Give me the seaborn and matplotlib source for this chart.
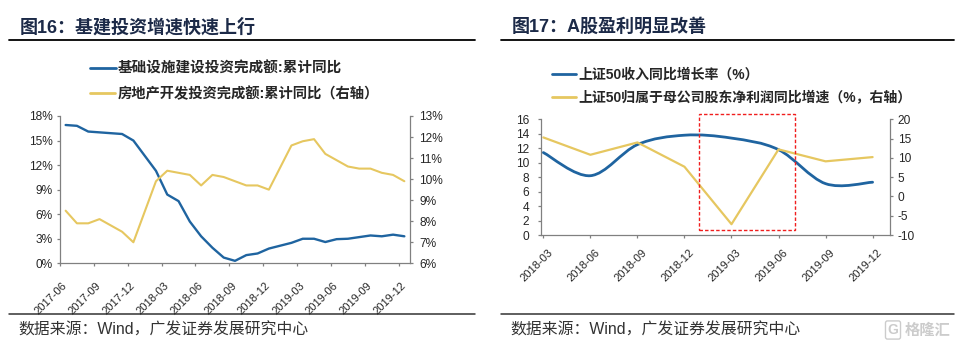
import numpy as np
import pandas as pd
import matplotlib
matplotlib.use("Agg")
import matplotlib.pyplot as plt
import seaborn as sns
from matplotlib.path import Path
from matplotlib.patches import PathPatch, Rectangle
from matplotlib.lines import Line2D
from matplotlib.ticker import FixedLocator, FuncFormatter
from matplotlib.transforms import ScaledTranslation

# ---------------- data ----------------
months = ["2017-06", "2017-07", "2017-08", "2017-09", "2017-10", "2017-11", "2017-12",
          "2018-01", "2018-02", "2018-03", "2018-04", "2018-05", "2018-06", "2018-07",
          "2018-08", "2018-09", "2018-10", "2018-11", "2018-12", "2019-01", "2019-02",
          "2019-03", "2019-04", "2019-05", "2019-06", "2019-07", "2019-08", "2019-09",
          "2019-10", "2019-11", "2019-12"]
# cumulative YoY, %, January figures are not published
infra_yoy = [16.9, 16.8, 16.1, 16.0, 15.9, 15.8, 15.0,
             np.nan, 11.3, 8.4, 7.6, 5.1, 3.3, 1.9,
             0.7, 0.3, 1.0, 1.2, 1.8, np.nan, 2.5,
             3.0, 3.0, 2.6, 2.95, 3.0, 3.2, 3.4,
             3.3, 3.5, 3.3]
estate_yoy = [8.5, 7.9, 7.9, 8.1, 7.8, 7.5, 7.0,
              np.nan, 9.9, 10.4, 10.3, 10.2, 9.7, 10.2,
              10.1, 9.9, 9.7, 9.7, 9.5, np.nan, 11.6,
              11.8, 11.9, 11.2, 10.9, 10.6, 10.5, 10.5,
              10.3, 10.2, 9.9]

quarters = ["2018-03", "2018-06", "2018-09", "2018-12",
            "2019-03", "2019-06", "2019-09", "2019-12"]
sz50_revenue = [11.4, 8.2, 12.5, 13.8, 13.4, 11.8, 7.1, 7.3]
sz50_profit = [15.3, 10.8, 14.0, 7.7, -7.2, 12.2, 9.1, 10.2]

left_label_months = months[::3]

# ---------------- style ----------------
BLUE = "#1F64A0"
GOLD = "#E6C760"
SPINE = "#808080"
TXT = "#262626"
NAVY = "#1C2A48"
YSIZE = 8.6
XSIZE = 8.0

sns.set_theme(style="white")
plt.rcParams["font.family"] = ["Liberation Sans", "Noto Sans CJK SC", "DejaVu Sans"]

W, H = 961, 346
fig = plt.figure(figsize=(W / 100, H / 100), dpi=100)


def fx(px):
    return px / W


def fy(py):
    return 1 - py / H


def style_axes(ax, axr):
    for s in ("top", "right"):
        ax.spines[s].set_visible(False)
    for s in ("top", "left", "bottom"):
        axr.spines[s].set_visible(False)
    for sp in (ax.spines["left"], ax.spines["bottom"], axr.spines["right"]):
        sp.set_color(SPINE)
        sp.set_linewidth(0.9)
    ax.grid(False)
    axr.grid(False)
    ax.set_xlabel("")
    ax.set_ylabel("")
    axr.set_ylabel("")


# ---------------- left panel ----------------
ax1 = fig.add_axes([fx(60), fy(263.3), fx(350), 147.3 / H])
ax1r = ax1.twinx()

df1 = pd.DataFrame({"t": np.arange(len(months)), "month": months,
                    "infra": infra_yoy, "estate": estate_yoy})
sns.lineplot(data=df1.dropna(subset=["infra"]), x="t", y="infra", ax=ax1,
             color=BLUE, lw=1.7, legend=False)
sns.lineplot(data=df1.dropna(subset=["estate"]), x="t", y="estate", ax=ax1r,
             color=GOLD, lw=1.5, legend=False)

ax1.set_xlim(-0.5, len(months) - 0.5)
ax1.set_ylim(0, 18)
ax1r.set_ylim(6, 13)
ax1.yaxis.set_major_locator(FixedLocator(np.arange(0, 19, 3)))
ax1r.yaxis.set_major_locator(FixedLocator(np.arange(6, 14, 1)))
pct = FuncFormatter(lambda v, p: f"{v:.0f}%")
ax1.yaxis.set_major_formatter(pct)
ax1r.yaxis.set_major_formatter(pct)

label_pos = [months.index(m) for m in left_label_months]
ax1.xaxis.set_major_locator(FixedLocator(label_pos))
ax1.xaxis.set_minor_locator(FixedLocator(np.array(label_pos) - 0.5))
ax1.tick_params(axis="x", which="major", length=0, pad=15, labelsize=XSIZE, colors=TXT)
ax1.tick_params(axis="x", which="minor", length=2.5, width=0.9, color=SPINE,
                direction="out", bottom=True)
ax1.tick_params(axis="y", length=2.5, width=0.9, color=SPINE, pad=3,
                labelsize=YSIZE, labelcolor=TXT, left=True)
ax1r.tick_params(axis="y", length=2.5, width=0.9, color=SPINE, pad=4,
                 labelsize=YSIZE, labelcolor=TXT, right=True)
ax1.set_xticklabels(left_label_months, rotation=45, ha="right", va="center",
                    rotation_mode="anchor")
style_axes(ax1, ax1r)

# ---------------- right panel ----------------
ax2 = fig.add_axes([fx(541), fy(235), fx(349), 115.7 / H])
ax2r = ax2.twinx()

df2 = pd.DataFrame({"q": np.arange(len(quarters)), "quarter": quarters,
                    "revenue": sz50_revenue, "profit": sz50_profit})

# revenue growth drawn as a smoothed curve through every quarterly value
xq = df2["q"].to_numpy(float)
yq = df2["revenue"].to_numpy(float)
pts = np.column_stack([xq, yq])
ext = np.vstack([pts[0], pts, pts[-1]])
verts = [tuple(pts[0])]
codes = [Path.MOVETO]
for i in range(len(pts) - 1):
    p0, p1, p2, p3 = ext[i], ext[i + 1], ext[i + 2], ext[i + 3]
    c1 = p1 + (p2 - p0) / 6.0
    c2 = p2 - (p3 - p1) / 6.0
    verts += [tuple(c1), tuple(c2), tuple(p2)]
    codes += [Path.CURVE4] * 3
ax2.add_patch(PathPatch(Path(verts, codes), fill=False, ec=BLUE, lw=2.0,
                        capstyle="round", joinstyle="round"))

sns.lineplot(data=df2, x="q", y="profit", ax=ax2r, color=GOLD, lw=1.6, legend=False)

ax2.set_xlim(-0.05, 7.37)
ax2.set_ylim(0, 16)
ax2r.set_ylim(-10, 20)
ax2.yaxis.set_major_locator(FixedLocator(np.arange(0, 17, 2)))
ax2r.yaxis.set_major_locator(FixedLocator(np.arange(-10, 21, 5)))
ax2.yaxis.set_major_formatter(FuncFormatter(lambda v, p: f"{v:.0f}"))
ax2r.yaxis.set_major_formatter(FuncFormatter(lambda v, p: f"{v:.0f}"))
ax2.xaxis.set_major_locator(FixedLocator(df2["q"]))
ax2.tick_params(axis="x", length=2.5, width=0.9, color=SPINE, pad=9,
                labelsize=XSIZE, labelcolor=TXT, bottom=True)
ax2.tick_params(axis="y", length=2.5, width=0.9, color=SPINE, pad=6,
                labelsize=YSIZE, labelcolor=TXT, left=True)
ax2r.tick_params(axis="y", length=2.5, width=0.9, color=SPINE, pad=3,
                 labelsize=YSIZE, labelcolor=TXT, right=True)
ax2.set_xticklabels(quarters, rotation=45, ha="right", va="center",
                    rotation_mode="anchor")
style_axes(ax2, ax2r)
fig.canvas.draw()
shift = ScaledTranslation(8 / 100, 0, fig.dpi_scale_trans)
for lab in ax2.get_xticklabels():
    lab.set_transform(lab.get_transform() + shift)

# highlighted window around the 2019-Q1 profit dip
ax2r.add_patch(Rectangle((3.31, 0.65), 5.36 - 3.31, 16.73 - 0.65,
                         transform=ax2.transData, fill=False, ec="#F01E1E",
                         lw=1.0, ls=(0, (2.5, 1.5)), clip_on=False, zorder=5))

# ---------------- legends ----------------
def legend_row(x0, yc, color, label, size):
    fig.legend(handles=[Line2D([], [], color=color, lw=2.0)], labels=[label],
               loc="center left", bbox_to_anchor=(fx(x0), fy(yc)),
               frameon=False, handlelength=1.75,
               handletextpad=0.15, borderpad=0, borderaxespad=0,
               prop={"family": ["Liberation Sans", "Noto Sans CJK SC"],
                     "size": size, "weight": "bold"})


legend_row(90, 69, BLUE, "基础设施建设投资完成额:累计同比", 10.5)
legend_row(90, 94, GOLD, "房地产开发投资完成额:累计同比（右轴）", 10.3)
legend_row(552, 75, BLUE, "上证50收入同比增长率（%）", 10.0)
legend_row(552, 98, GOLD, "上证50归属于母公司股东净利润同比增速（%，右轴）", 10.0)

# ---------------- titles, rules, sources ----------------
fig.text(fx(20), fy(27), "图16：基建投资增速快速上行", fontsize=13, weight="bold",
         color=NAVY, va="center", ha="left")
fig.text(fx(512), fy(27), "图17：A股盈利明显改善", fontsize=13, weight="bold",
         color=NAVY, va="center", ha="left")

for x0, x1 in ((9, 475), (501, 954)):
    fig.add_artist(Line2D([fx(x0), fx(x1)], [fy(40), fy(40)], color="black", lw=1.3))
    fig.add_artist(Line2D([fx(x0), fx(x1)], [fy(313.5), fy(313.5)], color="#333333", lw=1.1))

src = "数据来源：Wind，广发证券发展研究中心"
fig.text(fx(18), fy(330), src, fontsize=11.4, color="#333333", va="center", ha="left")
fig.text(fx(510), fy(330), src, fontsize=11.4, color="#333333", va="center", ha="left")

fig.text(fx(893), fy(330), "G", fontsize=10, color="#cccccc", weight="bold",
         va="center", ha="center",
         bbox=dict(boxstyle="round,pad=0.15", fc="none", ec="#cccccc", lw=1.0))
fig.text(fx(905), fy(330), "格隆汇", fontsize=11, color="#cccccc", weight="bold",
         va="center", ha="left", family=["Noto Sans CJK SC"])

fig.savefig("out.png", dpi=100)
